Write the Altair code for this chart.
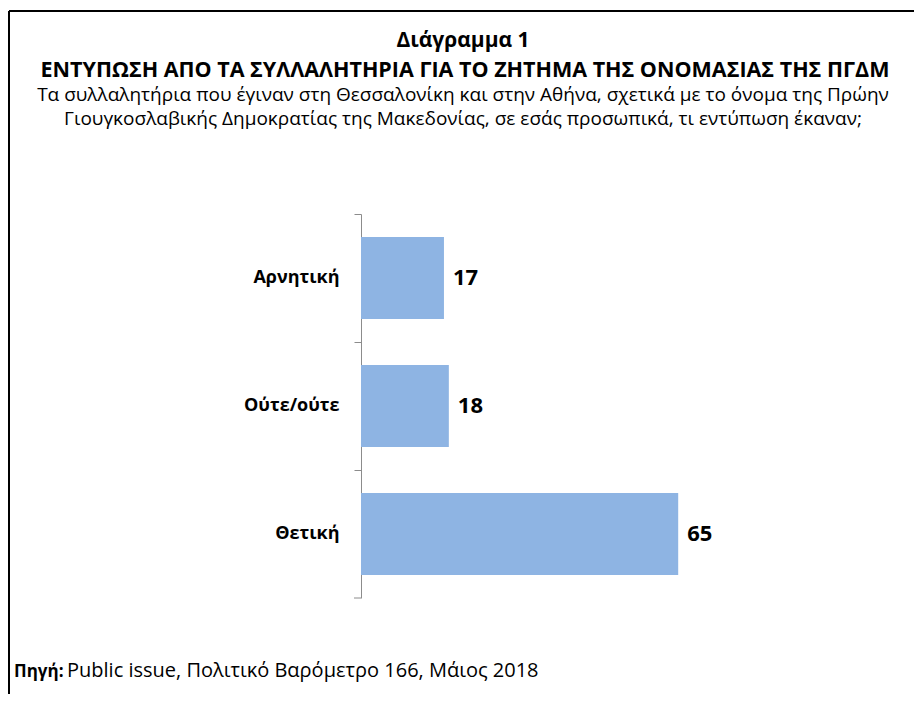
import altair as alt
import pandas as pd

categories = ["Αρνητική", "Ούτε/ούτε", "Θετική"]
values = [17, 18, 65]

title_line1 = "Διάγραμμα 1"
title_line2 = "ΕΝΤΥΠΩΣΗ ΑΠΟ ΤΑ ΣΥΛΛΑΛΗΤΗΡΙΑ ΓΙΑ ΤΟ ΖΗΤΗΜΑ ΤΗΣ ΟΝΟΜΑΣΙΑΣ ΤΗΣ ΠΓΔΜ"
subtitle1 = "Τα συλλαλητήρια που έγιναν στη Θεσσαλονίκη και στην Αθήνα, σχετικά με το όνομα της Πρώην"
subtitle2 = "Γιουγκοσλαβικής Δημοκρατίας της Μακεδονίας, σε εσάς προσωπικά, τι εντύπωση έκαναν;"
source_label = "Πηγή:"
source_text = "Public issue, Πολιτικό Βαρόμετρο 166, Μάιος 2018"

FONT = "Open Sans"
W, H = 488, 384

df = pd.DataFrame({"cat": categories, "val": values})

y_enc = alt.Y("cat:N", sort=categories, title=None,
              scale=alt.Scale(paddingInner=0, paddingOuter=0),
              axis=alt.Axis(bandPosition=0, tickSize=7,
                            domainColor="#8c8c8c", tickColor="#8c8c8c",
                            labelFont=FONT, labelFontSize=18, labelFontWeight="bold",
                            labelColor="black", labelPadding=15))
x_enc = alt.X("val:Q", scale=alt.Scale(domain=[0, 100]), axis=None)

bars = alt.Chart(df).mark_bar(color="#8EB4E3", height=alt.RelativeBandSize(0.64)).encode(
    x=x_enc, y=y_enc)

labels = alt.Chart(df).mark_text(align="left", baseline="middle", dx=9,
                                 font=FONT, fontSize=22, fontWeight="bold",
                                 color="black").encode(
    x=x_enc, y=alt.Y("cat:N", sort=categories), text="val:Q")

deco = pd.DataFrame({"k": [0]})


def txt(s, x, y, size, weight="normal", align="left"):
    return alt.Chart(deco).mark_text(align=align, baseline="alphabetic", font=FONT,
                                     fontSize=size, fontWeight=weight, color="black").encode(
        x=alt.value(x), y=alt.value(y), text=alt.value(s))


bottom_tick = alt.Chart(deco).mark_rule(color="#8c8c8c").encode(
    x=alt.value(-7), x2=alt.value(0), y=alt.value(H))
top_border = alt.Chart(deco).mark_rule(color="black", strokeWidth=2).encode(
    x=alt.value(-352), x2=alt.value(560), y=alt.value(-203))
left_border = alt.Chart(deco).mark_rule(color="black", strokeWidth=2).encode(
    x=alt.value(-352), y=alt.value(-203), y2=alt.value(490))

t1 = txt(title_line1, 102, -167, 21, "bold", "center")
t2 = txt(title_line2, 104, -137, 21.5, "bold", "center")
s1 = txt(subtitle1, 102, -113, 19, "normal", "center")
s2 = txt(subtitle2, 102, -89, 19, "normal", "center")
src_bold = txt(source_label, -347, 463, 17, "bold")
src_reg = txt(source_text, -294, 463, 20, "normal")

chart = alt.layer(bars, labels, bottom_tick, top_border, left_border,
                  t1, t2, s1, s2, src_bold, src_reg).properties(
    width=W, height=H,
    autosize=alt.AutoSizeParams(type="none"),
    padding={"left": 353, "top": 206, "right": 65, "bottom": 96},
).configure_view(stroke=None)

chart.save("out.html", embed_options={"renderer": "svg", "actions": False})
